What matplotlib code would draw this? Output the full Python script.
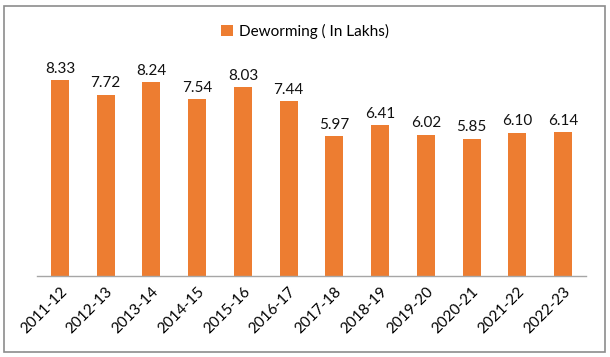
import matplotlib.pyplot as plt
from matplotlib.patches import Rectangle

years = ["2011-12", "2012-13", "2013-14", "2014-15", "2015-16", "2016-17",
         "2017-18", "2018-19", "2019-20", "2020-21", "2021-22", "2022-23"]
deworming = [8.33, 7.72, 8.24, 7.54, 8.03, 7.44, 5.97, 6.41, 6.02, 5.85, 6.10, 6.14]

plt.rcParams["font.family"] = ["Lato", "DejaVu Sans"]
orange = "#ED7D31"

fig = plt.figure(figsize=(6.1, 3.57), dpi=100)
ax = fig.add_axes([0.0607, 0.2269, 0.9, 0.658])

x = range(len(years))
bars = ax.bar(x, deworming, width=0.39, color=orange, label="Deworming ( In Lakhs)")
for xi, v in zip(x, deworming):
    ax.text(xi, v + 0.18, f"{v:.2f}", ha="center", va="bottom", fontsize=11, color="#111111")

ax.set_xlim(-0.5, len(years) - 0.5)
ax.set_ylim(0, 10)
ax.set_xticks(list(x))
ax.set_xticklabels(years, rotation=45, ha="right", rotation_mode="anchor", fontsize=11)
ax.tick_params(axis="x", length=0, pad=6)
ax.set_yticks([])
for side in ["top", "left", "right"]:
    ax.spines[side].set_visible(False)
ax.spines["bottom"].set_color("#A6A6A6")
ax.spines["bottom"].set_linewidth(1)

fig.legend(loc="center", bbox_to_anchor=(0.5, 0.912), frameon=False, fontsize=11,
           handlelength=0.8, handleheight=0.8, handletextpad=0.4)

fig.patches.append(Rectangle((0.007, 0.014), 0.985, 0.968, transform=fig.transFigure,
                             fill=False, edgecolor="#8C8C8C", linewidth=1.2))

fig.savefig("out.png", dpi=100)
